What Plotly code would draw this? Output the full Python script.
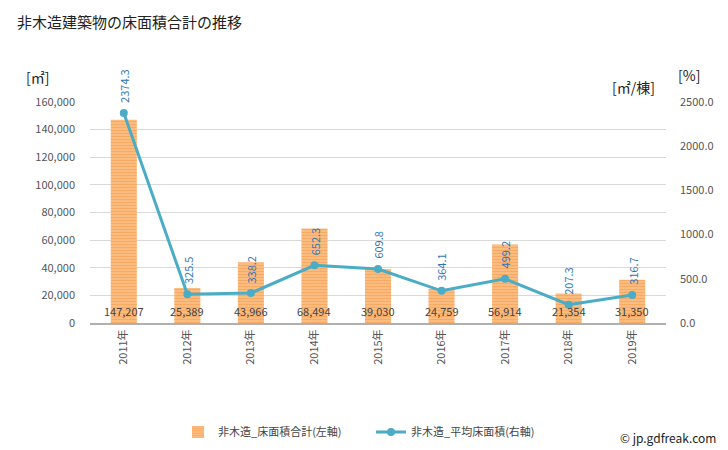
import plotly.graph_objects as go

years = ["2011年", "2012年", "2013年", "2014年", "2015年", "2016年", "2017年", "2018年", "2019年"]
total_area = [147207, 25389, 43966, 68494, 39030, 24759, 56914, 21354, 31350]
avg_area = [2374.3, 325.5, 338.2, 652.3, 609.8, 364.1, 499.2, 207.3, 316.7]
left_ticks = [0, 20000, 40000, 60000, 80000, 100000, 120000, 140000, 160000]
right_ticks = [0, 500, 1000, 1500, 2000, 2500]

font = "Noto Sans CJK JP"
W, H = 728, 450
ml, mr, mt, mb = 90, 62, 102, 127

fig = go.Figure()
fig.add_trace(go.Bar(
    x=years, y=total_area, name="非木造_床面積合計(左軸)",
    marker=dict(color="#f79646", line=dict(width=0),
                pattern=dict(shape="-", fgcolor="#f68a2e", bgcolor="#fcc894", size=3, solidity=0.6)),
    width=0.41, yaxis="y",
))
fig.add_trace(go.Scatter(
    x=years, y=avg_area, name="非木造_平均床面積(右軸)", mode="lines+markers",
    line=dict(color="#4bacc6", width=3), marker=dict(size=8, color="#4bacc6"),
    yaxis="y2",
))

annotations = []
for x, v in zip(years, total_area):
    annotations.append(dict(x=x, y=0, xref="x", yref="y", text=f"{v:,}", showarrow=False,
                            yanchor="bottom", yshift=2, font=dict(size=11, color="#444", family=font)))
for x, v in zip(years, avg_area):
    annotations.append(dict(x=x, y=v, xref="x", yref="y2", text=f"{v:.1f}", showarrow=False,
                            textangle=-90, yanchor="bottom", yshift=8,
                            font=dict(size=11, color="#2e75b6", family=font)))

def px(x, y):
    return (x - ml) / (W - ml - mr), (H - mb - y) / (H - mt - mb)

pixel_texts = [
    (15, 22, "非木造建築物の床面積合計の推移", 15, "left"),
    (24, 77, "[㎡]", 14, "left"),
    (676, 75, "[%]", 14, "left"),
    (657, 87, "[㎡/棟]", 14, "right"),
    (718, 437, "© jp.gdfreak.com", 12, "right"),
]
for x, y, t, s, anc in pixel_texts:
    xp, yp = px(x, y)
    annotations.append(dict(x=xp, y=yp, xref="paper", yref="paper", text=t, showarrow=False,
                            font=dict(size=s, color="#222", family=font), xanchor=anc, yanchor="middle"))

fig.update_layout(
    width=W, height=H, margin=dict(l=ml, r=mr, t=mt, b=mb, autoexpand=False),
    paper_bgcolor="white", plot_bgcolor="white",
    font=dict(family=font, color="#555"),
    xaxis=dict(tickangle=-90, tickfont=dict(size=11, color="#555"), showline=True,
               linecolor="#b0b0b0", linewidth=2, ticks="", showgrid=False, automargin=False),
    yaxis=dict(range=[0, 160000], tickvals=left_ticks, tickformat=",", showgrid=True,
               gridcolor="#d9d9d9", gridwidth=1, zeroline=False, tickfont=dict(size=11, color="#555"),
               ticks="", automargin=False, ticklabelstandoff=14),
    yaxis2=dict(range=[0, 2500], tickvals=right_ticks, tickformat=".1f", overlaying="y", side="right",
                showgrid=False, zeroline=False, tickfont=dict(size=11, color="#555"), automargin=False,
                ticklabelstandoff=13),
    legend=dict(orientation="h", x=178 / W, xanchor="left", y=1 - 432 / H, yanchor="middle",
                xref="container", yref="container", entrywidth=148,
                font=dict(size=11, color="#444", family=font)),
    annotations=annotations,
    showlegend=True,
)
fig.write_html("out.html", config={"displayModeBar": False},
               post_script="document.body.style.margin='0';document.body.style.overflow='hidden';")
